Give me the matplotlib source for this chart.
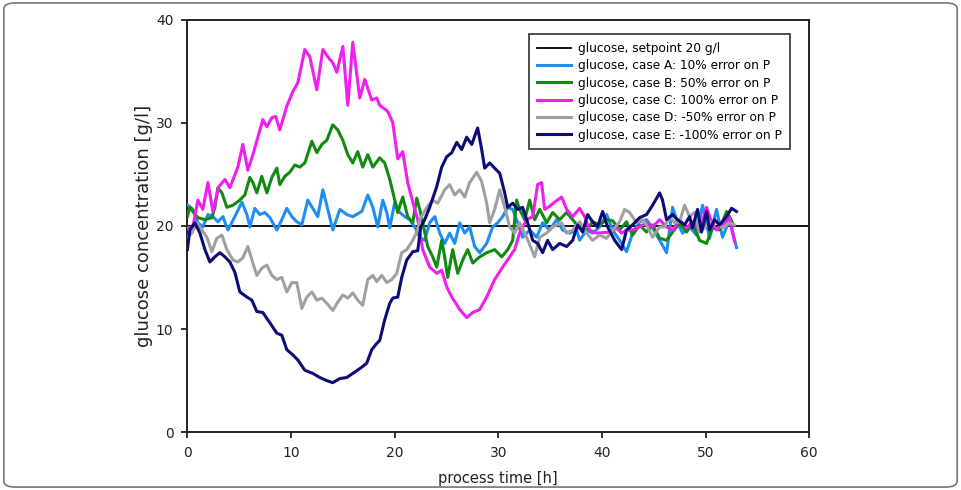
import matplotlib
matplotlib.use("Agg")
import matplotlib.pyplot as plt
from matplotlib.patches import FancyBboxPatch

# setpoint
t_set = [0, 60]
glc_set = [20, 20]

# case A: 10% error on P
t_A = [0.05, 0.53, 1.01, 1.49, 1.98, 2.46, 2.94, 3.42, 3.91, 4.58, 5.26, 5.74, 6.03, 6.51, 6.99,
       7.47, 7.96, 8.63, 9.11, 9.59, 10.08, 10.56, 11.04, 11.62, 12.10, 12.58, 13.07, 13.55, 14.03,
       14.71, 15.38, 15.96, 16.83, 17.41, 17.89, 18.37, 18.85, 19.24, 19.53, 20.01, 20.49, 20.97,
       21.46, 21.94, 22.42, 22.90, 23.38, 23.87, 24.35, 24.83, 25.31, 25.80, 26.28, 26.76, 27.24,
       27.72, 28.21, 28.88, 29.46, 29.94, 30.42, 30.91, 31.39, 31.87, 32.35, 33.03, 33.70, 34.28,
       34.96, 35.63, 36.21, 36.89, 37.56, 37.85, 38.52, 39.10, 39.78, 40.46, 41.04, 41.71, 42.38,
       42.96, 43.64, 44.31, 44.89, 45.57, 46.24, 46.82, 47.30, 47.78, 48.46, 49.13, 49.71, 50.39,
       51.06, 51.64, 52.31, 52.99]
glc_A = [22.0, 21.6, 20.3, 19.9, 21.1, 20.9, 20.4, 20.9, 19.6, 20.9, 22.3, 21.1, 19.9, 21.7, 21.1,
         21.3, 20.8, 19.6, 20.6, 21.7, 20.9, 20.4, 20.1, 22.5, 21.7, 20.9, 23.5, 21.6, 19.6,
         21.6, 21.1, 20.9, 21.4, 23.0, 21.8, 19.9, 22.5, 21.3, 19.8, 22.3, 21.3, 20.9,
         20.6, 19.9, 18.9, 18.6, 20.3, 20.9, 19.3, 18.3, 19.3, 18.3, 20.3, 19.3, 19.9,
         18.0, 17.4, 18.3, 19.9, 20.3, 20.9, 21.8, 21.6, 20.3, 18.9, 19.6, 18.9, 20.3,
         19.6, 20.6, 19.6, 19.3, 19.6, 18.6, 19.6, 19.3, 19.9, 21.1, 19.6, 18.6, 17.5,
         19.3, 20.4, 20.6, 19.8, 18.6, 17.4, 21.8, 20.3, 19.3, 19.9, 19.1, 22.0, 18.8,
         21.6, 18.9, 20.6, 17.9]

# case B: 50% error on P
t_B = [0.0, 0.24, 0.53, 1.01, 1.69, 2.36, 2.65, 2.94, 3.33, 3.81, 4.39, 5.06, 5.54, 6.03, 6.32,
       6.70, 7.18, 7.67, 8.15, 8.63, 8.92, 9.40, 9.88, 10.37, 10.85, 11.33, 12.01, 12.49, 12.97,
       13.45, 14.03, 14.51, 15.0, 15.48, 15.96, 16.44, 16.92, 17.41, 17.89, 18.56, 19.04, 19.53,
       20.01, 20.30, 20.78, 21.26, 21.75, 22.13, 22.42, 22.71, 23.19, 23.67, 24.06, 24.54, 24.83,
       25.12, 25.60, 26.09, 26.57, 27.05, 27.53, 28.21, 28.88, 29.65, 30.33, 30.91, 31.39, 31.77,
       32.06, 32.55, 33.03, 33.51, 34.0, 34.67, 35.25, 35.92, 36.6, 37.18, 37.85, 38.52, 39.10,
       39.78, 40.46, 41.04, 41.71, 42.38, 42.96, 43.64, 44.31, 44.89, 45.57, 46.24, 46.82, 47.49,
       48.17, 48.75, 49.42, 50.10, 50.68, 51.35, 52.03, 52.60]
glc_B = [20.9, 21.8, 21.4, 20.8, 20.6, 20.8, 21.8, 23.7, 23.2, 21.8, 22.0, 22.5, 23.0, 24.7, 24.2,
         23.2, 24.8, 23.2, 24.7, 25.6, 24.0, 24.8, 25.2, 25.9, 25.7, 26.1, 28.2, 27.1, 27.9,
         28.3, 29.8, 29.3, 28.3, 26.9, 26.1, 27.2, 25.7, 26.9, 25.7, 26.6, 26.1, 24.5,
         22.5, 21.3, 22.8, 20.9, 20.3, 22.7, 21.6, 20.3, 18.0, 17.0, 16.0, 18.6, 17.0,
         15.0, 17.7, 15.4, 16.7, 17.7, 16.4, 17.0, 17.4, 17.7, 17.0, 17.7, 18.6, 22.5,
         21.6, 20.6, 22.5, 20.6, 21.6, 20.3, 21.3, 20.6, 21.3, 20.6, 19.8, 19.6, 20.4,
         20.1, 20.6, 20.5, 19.6, 20.4, 19.1, 20.1, 19.4, 20.1, 18.8, 18.6, 19.4, 20.3,
         19.4, 20.3, 18.6, 18.3, 19.8, 19.6, 21.4, 20.3]

# case C: 100% error on P
t_C = [0.0, 0.53, 1.01, 1.49, 1.98, 2.46, 3.04, 3.62, 4.10, 4.87, 5.35, 5.83, 6.32, 7.28, 7.67,
       8.15, 8.53, 8.92, 9.59, 10.17, 10.66, 11.33, 11.81, 12.49, 13.07, 13.55, 14.03, 14.42, 15.0,
       15.48, 15.96, 16.63, 17.12, 17.79, 18.27, 18.56, 19.33, 19.82, 20.30, 20.78, 21.26, 21.75,
       22.23, 22.71, 23.38, 24.06, 24.54, 25.02, 25.51, 26.28, 26.95, 27.53, 28.21, 28.88, 29.65,
       30.42, 31.10, 31.58, 32.06, 32.74, 33.32, 33.80, 34.18, 34.47, 34.96, 35.44, 36.11, 36.6,
       37.18, 37.85, 38.33, 38.81, 39.49, 40.75, 41.42, 41.90, 42.38, 42.96, 43.64, 44.31, 44.89,
       45.57, 46.24, 46.82, 47.49, 48.17, 48.75, 49.42, 50.10, 50.58, 51.06, 51.64, 52.31, 52.80]
glc_C = [19.8, 19.9, 22.5, 21.6, 24.2, 21.4, 23.8, 24.5, 23.7, 25.7, 27.9, 25.4, 26.9, 30.3, 29.6,
         30.5, 30.6, 29.3, 31.6, 33.0, 33.9, 37.1, 36.4, 33.2, 37.1, 36.4, 35.8, 34.9, 37.4,
         31.7, 37.8, 32.4, 34.2, 32.2, 32.4, 31.7, 31.1, 30.0, 26.5, 27.2, 24.2, 22.3,
         20.6, 17.7, 16.0, 15.4, 15.7, 14.1, 13.1, 11.9, 11.1, 11.6, 11.9, 13.1, 14.8,
         16.0, 17.0, 17.7, 19.3, 20.6, 20.9, 24.0, 24.2, 21.6, 21.9, 22.3, 22.8, 21.6,
         20.9, 21.7, 20.9, 19.6, 19.3, 19.4, 19.8, 19.3, 19.6, 19.6, 19.9, 20.3, 19.9,
         20.6, 19.9, 19.6, 20.6, 19.8, 20.4, 19.6, 21.8, 20.4, 19.6, 20.1, 20.8, 18.5]

# case D: -50% error on P
t_D = [0.0, 0.43, 0.92, 1.40, 1.88, 2.36, 2.84, 3.33, 3.81, 4.39, 4.87, 5.35, 5.83, 6.32, 6.70,
       7.18, 7.67, 8.15, 8.63, 9.11, 9.59, 10.08, 10.56, 11.04, 11.52, 12.01, 12.49, 12.97, 13.45,
       14.03, 14.51, 15.0, 15.48, 15.96, 16.44, 16.92, 17.41, 17.89, 18.27, 18.76, 19.24, 19.72,
       20.20, 20.68, 21.17, 21.75, 22.23, 22.42, 23.1, 23.67, 24.15, 24.83, 25.31, 25.80, 26.28,
       26.76, 27.24, 27.92, 28.40, 28.88, 29.17, 29.65, 30.14, 30.62, 31.10, 31.58, 32.06, 32.74,
       33.22, 33.51, 34.0, 34.67, 35.25, 36.11, 36.6, 37.18, 37.85, 38.52, 39.10, 39.78, 40.46,
       41.04, 41.71, 42.19, 42.67, 43.35, 43.92, 44.41, 44.89, 45.57, 46.05, 46.53, 47.01, 47.49,
       47.98, 48.46, 48.94, 49.42, 49.90, 50.39, 51.06, 51.64, 52.31, 52.80]
glc_D = [18.9, 19.3, 20.3, 19.6, 18.9, 17.5, 18.8, 19.1, 17.7, 16.7, 16.5, 16.9, 18.0, 16.4, 15.2,
         15.9, 16.2, 15.2, 14.8, 15.0, 13.6, 14.5, 14.5, 12.0, 13.1, 13.6, 12.8, 13.0, 12.5,
         11.8, 12.6, 13.3, 13.0, 13.5, 12.8, 12.3, 14.8, 15.2, 14.6, 15.2, 14.5, 14.8,
         15.4, 17.4, 17.7, 18.6, 19.6, 20.6, 21.8, 22.5, 22.2, 23.5, 24.0, 23.0, 23.5,
         22.8, 24.2, 25.2, 24.3, 22.2, 20.3, 21.6, 23.5, 21.8, 19.9, 19.3, 20.3, 18.9,
         17.7, 17.0, 18.9, 19.3, 19.9, 20.3, 19.3, 19.6, 20.4, 19.3, 18.6, 19.1, 18.8,
         19.6, 20.4, 21.6, 21.3, 20.3, 20.6, 19.9, 18.9, 19.9, 19.9, 20.9, 20.3, 20.4,
         22.0, 20.9, 21.3, 19.4, 19.8, 20.3, 20.4, 19.8, 20.3, 20.1]

# case E: -100% error on P
t_E = [0.0, 0.24, 0.72, 1.21, 1.69, 2.17, 2.65, 3.13, 3.62, 4.10, 4.58, 5.06, 5.74, 6.22, 6.70,
       7.28, 7.96, 8.63, 9.11, 9.59, 10.17, 10.66, 11.33, 12.10, 12.78, 13.45, 14.03, 14.71, 15.38,
       15.96, 16.83, 17.31, 17.79, 18.27, 18.56, 19.04, 19.53, 19.82, 20.30, 20.68, 21.17, 21.75,
       22.23, 22.52, 22.90, 23.38, 24.06, 24.54, 25.02, 25.51, 25.99, 26.47, 26.95, 27.44, 28.01,
       28.40, 28.69, 29.17, 29.65, 30.14, 30.62, 30.91, 31.39, 31.87, 32.35, 32.84, 33.32, 33.80,
       34.28, 34.76, 35.25, 35.92, 36.6, 37.18, 37.66, 38.14, 38.62, 39.10, 39.58, 40.07, 40.55,
       41.23, 41.90, 42.38, 42.96, 43.64, 44.31, 44.89, 45.57, 45.85, 46.24, 46.82, 47.30, 47.98,
       48.46, 48.75, 49.23, 49.61, 50.10, 50.39, 50.87, 51.35, 52.03, 52.51, 52.99]
glc_E = [17.7, 19.6, 20.3, 19.3, 17.7, 16.5, 17.0, 17.4, 17.0, 16.5, 15.5, 13.6, 13.1, 12.8, 11.7,
         11.6, 10.6, 9.6, 9.4, 8.0, 7.5, 7.0, 6.0, 5.7, 5.3, 5.0, 4.8, 5.2, 5.3,
         5.7, 6.3, 6.7, 8.0, 8.6, 8.9, 10.9, 12.5, 13.0, 13.1, 15.0, 16.7, 17.5,
         17.6, 19.9, 20.6, 21.8, 23.8, 25.7, 26.7, 27.1, 28.1, 27.4, 28.6, 27.9, 29.5,
         27.4, 25.6, 26.1, 25.6, 25.1, 23.2, 21.8, 22.2, 21.6, 21.8, 20.3, 18.6, 18.3,
         17.4, 18.6, 17.7, 18.3, 18.0, 18.6, 20.1, 19.4, 21.1, 20.4, 19.9, 21.4, 19.9,
         18.6, 17.7, 19.6, 20.1, 20.8, 21.1, 22.0, 23.2, 22.5, 20.6, 21.1, 20.6, 20.1,
         20.9, 19.8, 21.6, 19.4, 21.4, 19.6, 20.6, 20.1, 20.9, 21.7, 21.4]

labels = ["glucose, setpoint 20 g/l",
          "glucose, case A: 10% error on P",
          "glucose, case B: 50% error on P",
          "glucose, case C: 100% error on P",
          "glucose, case D: -50% error on P",
          "glucose, case E: -100% error on P"]
colors = ["#000000", "#1f8ef0", "#128a12", "#f01ef0", "#a0a0a0", "#0c0c78"]


def main():
    fig = plt.figure(figsize=(9.61, 4.9), dpi=100)
    ax = fig.add_axes([0.195, 0.118, 0.647, 0.842])

    series = [(t_set, glc_set), (t_A, glc_A), (t_B, glc_B),
              (t_C, glc_C), (t_D, glc_D), (t_E, glc_E)]
    for i, (t, g) in enumerate(series):
        lw = 1.3 if i == 0 else 2.2
        ax.plot(t, g, color=colors[i], lw=lw, label=labels[i],
                solid_joinstyle="round", zorder=2 + i)

    ax.set_xlim(0, 60)
    ax.set_ylim(0, 40)
    ax.set_xticks(range(0, 61, 10))
    ax.set_yticks(range(0, 41, 10))
    ax.tick_params(direction="out", length=4, width=1.3, labelsize=10,
                   colors="#222222", pad=6)
    for s in ax.spines.values():
        s.set_linewidth(1.4)
        s.set_color("#222222")

    ax.set_xlabel("process time [h]", fontsize=10.5, color="#222222", labelpad=8)
    ax.set_ylabel("glucose concentration [g/l]", fontsize=13, color="#222222", labelpad=2)

    leg = ax.legend(loc="upper right", bbox_to_anchor=(0.969, 0.965), borderaxespad=0,
                    fontsize=8.7, handlelength=2.8, handletextpad=0.6,
                    labelspacing=0.36, frameon=True, fancybox=False,
                    borderpad=0.65)
    leg.get_frame().set_edgecolor("#111111")
    leg.get_frame().set_linewidth(1.3)

    # rounded frame around the whole figure
    frame = FancyBboxPatch((0.004, 0.006), 0.992, 0.988, transform=fig.transFigure,
                           boxstyle="round,pad=0,rounding_size=0.012",
                           fill=False, edgecolor="#777777", lw=1.2)
    fig.patches.append(frame)

    fig.savefig("out.png", dpi=100)


if __name__ == "__main__":
    main()
